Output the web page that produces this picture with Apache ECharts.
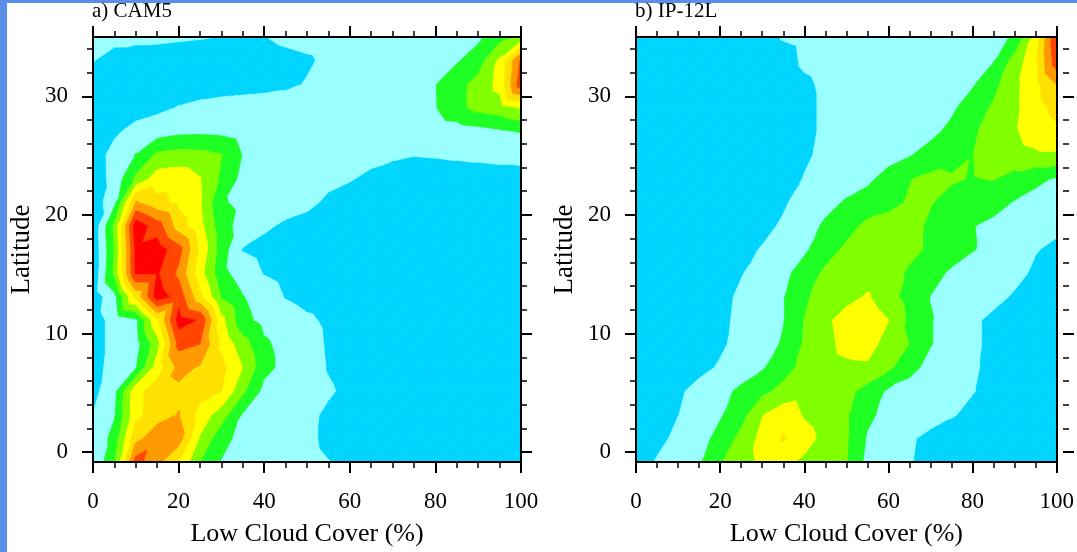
<!DOCTYPE html>
<html>
<head>
<meta charset="utf-8">
<script src="https://cdn.jsdelivr.net/npm/echarts@6/dist/echarts.min.js"></script>
<style>
html,body{margin:0;padding:0;background:#ffffff;}
#chart{width:1077px;height:552px;}
</style>
</head>
<body>
<div id="chart"></div>
<script>
// ---------- data ----------
const lowCloudCover = [0,5,10,15,20,25,30,35,40,45,50,55,60,65,70,75,80,85,90,95,100];
const latitudes = [-1,1,3,5,7,9,11,13,15,17,19,21,23,25,27,29,31,33,35];

// CAM5 field, one row per latitude (bottom to top), one value per low-cloud-cover bin
const cam5 = [
  [1.1,2.9,7.4,6.3,5.0,3.0,1.95,1.8,1.6,1.4,1.2,1.02,0.8,0.7,0.6,0.6,0.6,0.6,0.6,0.6,0.6],
  [1.1,2.4,5.7,6.6,6.5,3.9,2.3,1.7,1.6,1.4,1.15,0.85,0.7,0.6,0.6,0.6,0.6,0.6,0.6,0.6,0.6],
  [1.02,1.9,4.7,5.6,6.05,4.6,3.5,1.9,1.6,1.4,1.2,0.85,0.7,0.6,0.6,0.6,0.6,0.6,0.6,0.6,0.6],
  [0.7,1.7,4.7,5.5,5.8,5.4,5.0,3.2,1.7,1.5,1.35,1.1,0.8,0.65,0.6,0.6,0.6,0.6,0.6,0.6,0.6],
  [0.6,1.4,1.95,4.5,6.3,5.9,5.3,4.0,2.3,1.7,1.4,0.95,0.7,0.6,0.6,0.6,0.6,0.6,0.6,0.6,0.6],
  [0.6,1.3,1.6,3.6,7.3,7.0,4.8,3.4,2.15,1.7,1.35,0.9,0.7,0.6,0.6,0.6,0.6,0.6,0.6,0.6,0.6],
  [0.6,1.3,1.8,4.8,8.4,7.9,4.3,2.3,1.7,1.45,1.15,0.85,0.7,0.6,0.6,0.6,0.6,0.6,0.6,0.6,0.6],
  [0.4,1.7,5.2,8.5,7.6,5.3,2.9,2.05,1.5,0.95,0.7,0.6,0.6,0.6,0.6,0.6,0.6,0.6,0.6,0.6,0.6],
  [0.2,3.2,8.1,8.1,6.8,4.4,2.3,1.5,0.95,0.7,0.6,0.6,0.6,0.6,0.6,0.6,0.6,0.6,0.6,0.6,0.6],
  [0.2,3.0,8.2,8.5,7.4,4.8,2.5,0.95,0.7,0.6,0.6,0.6,0.6,0.6,0.6,0.6,0.6,0.6,0.6,0.6,0.6],
  [0.2,3.2,8.6,7.5,5.5,4.3,2.4,1.6,1.15,0.85,0.7,0.6,0.6,0.6,0.6,0.6,0.6,0.6,0.6,0.6,0.6],
  [0.4,1.7,6.1,5.3,4.8,4.1,2.1,1.8,1.6,1.4,1.2,0.85,0.7,0.6,0.6,0.6,0.6,0.6,0.6,0.6,0.6],
  [0.5,1.3,3.2,4.5,4.6,4.05,2.8,1.7,1.6,1.45,1.3,1.2,1.05,0.85,0.7,0.65,0.65,0.65,0.65,0.7,0.75],
  [0.55,1.3,2.05,3.2,3.4,3.3,3.05,1.95,1.6,1.5,1.4,1.35,1.3,1.2,1.1,1.02,1.05,1.1,1.15,1.2,1.2],
  [0.6,0.85,1.3,1.5,1.75,1.8,1.75,1.5,1.4,1.35,1.3,1.3,1.3,1.3,1.3,1.35,1.4,1.5,1.65,1.85,2.05],
  [0.4,0.5,0.6,0.8,1.05,1.2,1.3,1.35,1.4,1.4,1.45,1.45,1.45,1.5,1.5,1.55,1.95,2.7,3.3,3.5,4.05],
  [0.5,0.45,0.45,0.5,0.55,0.6,0.65,0.7,0.75,0.85,1.05,1.3,1.4,1.45,1.5,1.5,1.97,2.65,3.35,4.3,7.6],
  [1.02,0.8,0.7,0.65,0.6,0.6,0.6,0.65,0.7,0.8,0.9,1.15,1.3,1.35,1.4,1.4,1.6,1.9,2.5,4.2,7.2],
  [1.1,1.15,1.15,1.15,1.1,1.05,0.98,0.85,0.98,1.15,1.25,1.3,1.35,1.35,1.35,1.35,1.4,1.5,1.8,2.6,3.3]
];

// IP-12L field
const ip12l = [
  [0.5,1.1,1.5,1.9,2.9,3.6,4.2,4.3,3.8,3.4,3.05,1.7,1.4,1.05,0.8,0.7,0.6,0.6,0.6,0.6,0.6],
  [0.3,0.7,1.25,1.65,2.3,3.3,4.3,5.1,4.4,3.7,3.1,1.9,1.5,1.1,0.8,0.7,0.6,0.6,0.6,0.6,0.6],
  [0.3,0.5,0.98,1.5,1.9,2.6,3.95,4.6,3.9,3.5,3.1,2.2,1.7,1.45,1.3,1.05,0.85,0.7,0.65,0.6,0.6],
  [0.3,0.45,0.85,1.3,1.7,2.2,2.75,3.3,3.6,3.6,3.3,2.6,1.85,1.6,1.45,1.3,1.03,0.8,0.7,0.6,0.6],
  [0.2,0.3,0.5,0.75,1.1,1.5,1.9,2.6,3.3,3.6,3.8,3.85,3.2,2.3,1.7,1.5,1.1,0.8,0.7,0.6,0.6],
  [0.2,0.25,0.4,0.6,0.85,1.3,1.6,2.1,3.1,3.7,4.3,4.4,3.6,2.98,2.05,1.6,1.15,0.8,0.7,0.6,0.6],
  [0.2,0.25,0.35,0.55,0.8,1.2,1.55,1.95,3.02,3.8,4.4,4.6,4.02,2.8,2.05,1.6,1.15,0.8,0.7,0.65,0.6],
  [0.2,0.25,0.35,0.5,0.75,1.15,1.55,1.95,2.85,3.4,3.7,4.1,3.4,2.6,1.98,1.7,1.5,1.25,0.9,0.75,0.7],
  [0.2,0.25,0.35,0.5,0.7,0.95,1.35,1.75,2.4,3.2,3.5,3.6,3.4,2.85,2.35,1.85,1.6,1.45,1.25,0.85,0.7],
  [0.2,0.25,0.3,0.45,0.6,0.8,1.05,1.4,1.85,2.55,3.2,3.45,3.5,3.25,2.85,2.45,2.05,1.75,1.45,1.05,0.8],
  [0.2,0.25,0.3,0.4,0.5,0.65,0.8,1.1,1.6,2.15,2.6,3.25,3.4,3.3,2.85,2.5,2.03,1.8,1.6,1.4,1.2],
  [0.2,0.25,0.3,0.35,0.45,0.55,0.7,0.9,1.3,1.7,2.1,2.4,2.7,3.1,3.05,2.7,2.5,2.3,1.95,1.7,1.55],
  [0.2,0.25,0.3,0.35,0.4,0.5,0.6,0.75,1.03,1.3,1.55,1.8,2.35,2.95,3.25,3.1,2.95,3.05,2.6,2.2,1.9],
  [0.2,0.25,0.3,0.35,0.4,0.45,0.55,0.7,0.9,1.15,1.3,1.45,1.65,1.95,2.3,2.65,2.98,3.4,3.7,3.85,3.85],
  [0.2,0.25,0.3,0.35,0.4,0.45,0.55,0.65,0.85,1.1,1.25,1.35,1.45,1.6,1.8,2.2,2.85,3.4,3.9,4.4,4.8],
  [0.2,0.25,0.3,0.35,0.4,0.45,0.55,0.65,0.85,1.1,1.2,1.3,1.35,1.45,1.6,1.85,2.45,3.15,3.8,4.6,5.3],
  [0.2,0.25,0.3,0.35,0.4,0.45,0.55,0.7,0.9,1.1,1.2,1.25,1.3,1.35,1.45,1.6,1.9,2.7,3.75,4.7,6.05],
  [0.2,0.25,0.3,0.35,0.4,0.5,0.6,0.75,1.1,1.2,1.25,1.25,1.3,1.3,1.35,1.45,1.6,1.95,3.4,4.8,7.6],
  [0.2,0.25,0.3,0.4,0.5,0.6,0.8,1.05,1.15,1.2,1.25,1.25,1.3,1.3,1.35,1.4,1.5,1.6,2.15,4.4,7.9]
];

const contourLevels = [1,2,3,4,5,6,7,8];
const levelColors = ['#00d5ff','#99ffff','#1eff24','#80ff00','#ffff00','#ffe100','#ff9900','#ff4500','#ff0000'];
const panelTitles = ['a) CAM5','b) IP-12L'];
const xAxisTitle = 'Low Cloud Cover (%)';
const yAxisTitle = 'Latitude';
const latRange = [-1, 35];
const latLabelRange = [0, 30];   // labelled ticks every 10
const latMinorRange = [0, 34];   // minor ticks every 2

// ---------- layout ----------
const SERIF = '"Liberation Serif","Times New Roman",serif';
const panels = [
  {left: 93, top: 37, width: 428, height: 427, field: cam5},
  {left: 636, top: 37, width: 427, height: 427, field: ip12l}
];

function clipPoly(poly, level, keepAbove) {
  const out = [];
  const n = poly.length;
  for (let i = 0; i < n; i++) {
    const cur = poly[i], prev = poly[(i + n - 1) % n];
    const cin = keepAbove ? cur[2] >= level : cur[2] <= level;
    const pin = keepAbove ? prev[2] >= level : prev[2] <= level;
    if (cin !== pin) {
      const t = (level - prev[2]) / (cur[2] - prev[2]);
      out.push([prev[0] + t * (cur[0] - prev[0]), prev[1] + t * (cur[1] - prev[1]), level]);
    }
    if (cin) out.push(cur);
  }
  return out;
}

function makeRender(field) {
  return function (params, api) {
    const ci = api.value(2), ri = api.value(3);
    const x0 = lowCloudCover[ci], x1 = lowCloudCover[ci + 1];
    const y0 = latitudes[ri], y1 = latitudes[ri + 1];
    const a = [x0, y0, field[ri][ci]];
    const b = [x1, y0, field[ri][ci + 1]];
    const c = [x1, y1, field[ri + 1][ci + 1]];
    const d = [x0, y1, field[ri + 1][ci]];
    const tris = [[a, b, c], [a, c, d]];
    const children = [];
    tris.forEach(function (tri) {
      const vs = tri.map(p => p[2]);
      const vmin = Math.min.apply(null, vs), vmax = Math.max.apply(null, vs);
      for (let k = 0; k < levelColors.length; k++) {
        const lo = k === 0 ? -Infinity : contourLevels[k - 1];
        const hi = k === levelColors.length - 1 ? Infinity : contourLevels[k];
        if (vmax < lo || vmin > hi) continue;
        let poly = tri;
        if (lo > -Infinity) poly = clipPoly(poly, lo, true);
        if (poly.length >= 3 && hi < Infinity) poly = clipPoly(poly, hi, false);
        if (poly.length < 3) continue;
        children.push({
          type: 'polygon',
          shape: {points: poly.map(p => api.coord([p[0], p[1]]))},
          style: {fill: levelColors[k], stroke: levelColors[k], lineWidth: 0.8}
        });
      }
    });
    return {type: 'group', children: children};
  };
}

const cells = [];
for (let ri = 0; ri < latitudes.length - 1; ri++) {
  for (let ci = 0; ci < lowCloudCover.length - 1; ci++) {
    cells.push([lowCloudCover[ci], latitudes[ri], ci, ri]);
  }
}

const grids = [], xAxes = [], yAxes = [], series = [], titles = [];
const black = '#000000';

panels.forEach(function (p, pi) {
  const pxPerLat = p.height / (latRange[1] - latRange[0]);
  const gMain = grids.length;
  grids.push({left: p.left, top: p.top, width: p.width, height: p.height, containLabel: false});
  xAxes.push({
    gridIndex: gMain, type: 'value', min: 0, max: 100, interval: 20, position: 'bottom', z: 5,
    axisLine: {onZero: false, lineStyle: {color: black, width: 2}},
    axisTick: {show: true, length: 11, lineStyle: {color: black, width: 2}},
    minorTick: {show: true, splitNumber: 4, length: 6, lineStyle: {color: black, width: 1.5}},
    splitLine: {show: false}, minorSplitLine: {show: false},
    axisLabel: {fontFamily: SERIF, fontSize: 23, color: black, margin: 28},
    name: xAxisTitle, nameLocation: 'middle', nameGap: 59,
    nameTextStyle: {fontFamily: SERIF, fontSize: 26, color: black}
  });
  const xMain = xAxes.length - 1;
  xAxes.push({
    gridIndex: gMain, type: 'value', min: 0, max: 100, interval: 20, position: 'top', z: 5,
    axisLine: {onZero: false, lineStyle: {color: black, width: 2}},
    axisTick: {show: true, length: 11, lineStyle: {color: black, width: 2}},
    minorTick: {show: true, splitNumber: 4, length: 6, lineStyle: {color: black, width: 1.5}},
    splitLine: {show: false}, minorSplitLine: {show: false},
    axisLabel: {show: false}
  });
  yAxes.push({
    gridIndex: gMain, type: 'value', min: latRange[0], max: latRange[1], position: 'left', z: 5,
    axisLine: {onZero: false, lineStyle: {color: black, width: 2}},
    axisTick: {show: false}, axisLabel: {show: false}, splitLine: {show: false},
    name: yAxisTitle, nameLocation: 'middle', nameGap: 58, nameRotate: 90,
    nameTextStyle: {fontFamily: SERIF, fontSize: 27, color: black}
  });
  const yMain = yAxes.length - 1;
  yAxes.push({
    gridIndex: gMain, type: 'value', min: latRange[0], max: latRange[1], position: 'right', z: 5,
    axisLine: {onZero: false, lineStyle: {color: black, width: 2}},
    axisTick: {show: false}, axisLabel: {show: false}, splitLine: {show: false}
  });

  [[latLabelRange, 10, 11, 2, true], [latMinorRange, 2, 6, 1.5, false]].forEach(function (cfg) {
    const rng = cfg[0];
    const gi = grids.length;
    grids.push({
      left: p.left, width: p.width,
      top: p.top + (latRange[1] - rng[1]) * pxPerLat,
      height: (rng[1] - rng[0]) * pxPerLat
    });
    xAxes.push({gridIndex: gi, type: 'value', min: 0, max: 100, show: false});
    ['left', 'right'].forEach(function (pos) {
      yAxes.push({
        gridIndex: gi, type: 'value', min: rng[0], max: rng[1], interval: cfg[1], position: pos, z: 5,
        axisLine: {show: false, onZero: false},
        axisTick: {show: true, length: cfg[2], lineStyle: {color: black, width: cfg[3]}},
        splitLine: {show: false},
        axisLabel: {show: cfg[4] && pos === 'left', fontFamily: SERIF, fontSize: 23, color: black, margin: 25}
      });
    });
  });

  series.push({
    type: 'custom', xAxisIndex: xMain, yAxisIndex: yMain,
    renderItem: makeRender(p.field), data: cells, encode: {x: 0, y: 1},
    silent: true, animation: false, clip: true, z: 2
  });

  titles.push({
    text: panelTitles[pi], left: p.left - 1, top: 1, padding: 0,
    textStyle: {fontFamily: SERIF, fontSize: 21, fontWeight: 'normal', color: black}
  });
});

const chart = echarts.init(document.getElementById('chart'), null, {renderer: 'canvas'});
chart.setOption({
  backgroundColor: '#ffffff',
  animation: false,
  title: titles,
  grid: grids,
  xAxis: xAxes,
  yAxis: yAxes,
  series: series,
  graphic: [
    {type: 'rect', left: 0, top: 0, shape: {width: 7, height: 552}, style: {fill: '#5b8ee8'}},
    {type: 'rect', left: 0, top: 0, shape: {width: 1077, height: 3}, style: {fill: '#5b8ee8'}}
  ]
});
</script>
</body>
</html>
